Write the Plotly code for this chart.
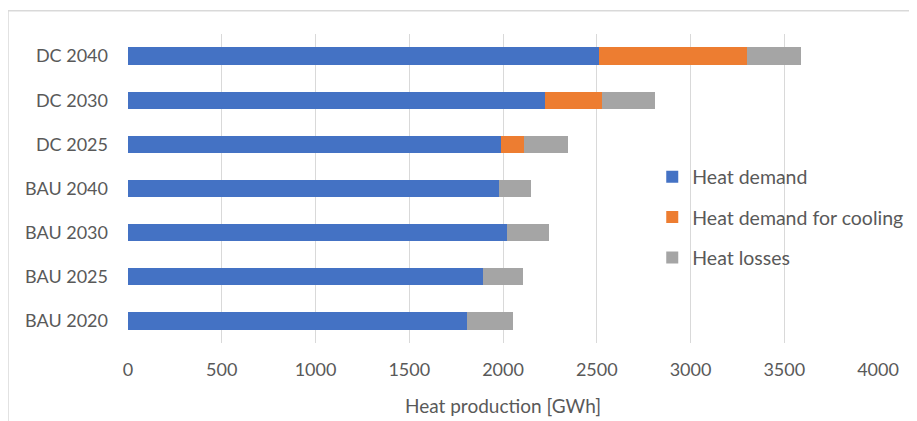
import plotly.graph_objects as go

categories = ["BAU 2020", "BAU 2025", "BAU 2030", "BAU 2040", "DC 2025", "DC 2030", "DC 2040"]
heat_demand = [1808, 1895, 2021, 1978, 1989, 2224, 2513]
heat_cooling = [0, 0, 0, 0, 123, 305, 786]
heat_losses = [247, 211, 226, 171, 234, 283, 288]
series_names = ["Heat demand", "Heat demand for cooling", "Heat losses"]
x_ticks = [0, 500, 1000, 1500, 2000, 2500, 3000, 3500, 4000]

colors = ["#4472C4", "#ED7D31", "#A5A5A5"]
FONT = "Lato"
TXT = "#595959"

fig = go.Figure()
for i, (name, vals) in enumerate(zip(series_names, [heat_demand, heat_cooling, heat_losses])):
    fig.add_trace(go.Bar(
        y=categories, x=vals, name=name, orientation="h",
        marker=dict(color=colors[i], line=dict(width=0)),
        legendgroup=f"g{i}",
    ))

# page body has an 8px default margin, so the figure is offset by 8px
fig.update_layout(
    width=909, height=413,
    barmode="stack", bargap=0.61,
    paper_bgcolor="white", plot_bgcolor="white",
    margin=dict(l=120, r=39, t=26, b=78, autoexpand=False),
    font=dict(family=FONT, size=18, color=TXT),
    legend=dict(
        x=0.699, y=0.406, xanchor="left", yanchor="middle",
        bgcolor="rgba(0,0,0,0)", traceorder="grouped", tracegroupgap=12,
        font=dict(family=FONT, size=19.5, color=TXT),
        itemwidth=30,
    ),
    xaxis=dict(
        range=[0, 4000], tickvals=x_ticks, showgrid=True, gridcolor="#D9D9D9",
        gridwidth=1, zeroline=False, showline=False, ticks="",
        ticklabelstandoff=14,
        tickfont=dict(family=FONT, size=18, color=TXT),
        title=dict(text="Heat production [GWh]", standoff=20,
                   font=dict(family=FONT, size=19, color=TXT)),
    ),
    yaxis=dict(
        categoryorder="array", categoryarray=categories,
        showgrid=False, zeroline=False, showline=False, ticks="",
        ticklabelstandoff=19,
        tickfont=dict(family=FONT, size=18, color=TXT),
    ),
    shapes=[dict(type="rect", xref="paper", yref="paper",
                 x0=-0.16, x1=1.1, y0=-0.4, y1=1.075,
                 line=dict(color="#D9D9D9", width=1.5), fillcolor="rgba(0,0,0,0)",
                 layer="below")],
)

fig.write_html("out.html")
